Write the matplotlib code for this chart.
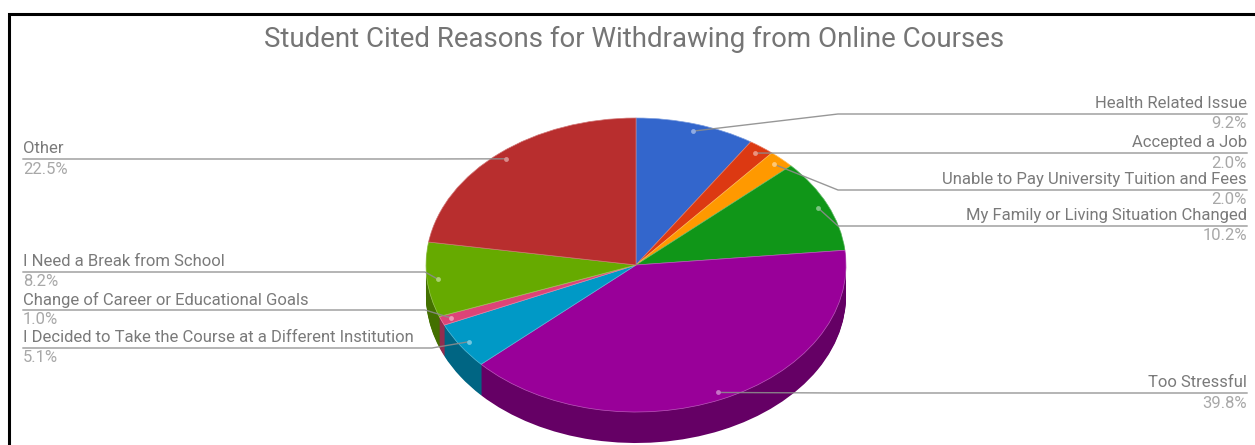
#!/usr/bin/python
""" Student withdrawal reasons drawn as a tilted pie with a side wall and leader labels """

import numpy as np
import matplotlib
matplotlib.use("Agg")
import matplotlib.pyplot as plt
import matplotlib.colors as mcolors

plt.rcParams['font.family'] = ['Roboto', 'DejaVu Sans']

title = "Student Cited Reasons for Withdrawing from Online Courses"

# clockwise from twelve o'clock
reasons = ["Health Related Issue", "Accepted a Job",
           "Unable to Pay University Tuition and Fees",
           "My Family or Living Situation Changed", "Too Stressful",
           "I Decided to Take the Course at a Different Institution",
           "Change of Career or Educational Goals",
           "I Need a Break from School", "Other"]
shares = [9.2, 2.0, 2.0, 10.2, 39.8, 5.1, 1.0, 8.2, 22.5]
slice_colors = ["#3366cc", "#dc3912", "#ff9900", "#109618", "#990099",
                "#0099c6", "#dd4477", "#66aa00", "#b82e2e"]

# label layout, in pixels: which side, y of the leader, x of the bend
label_side = ["right", "right", "right", "right", "right",
              "left", "left", "left", "left"]
leader_y = [114, 153, 190, 226, 393, 348, 310, 272, 159]
bend_x = [838, 838, 838, 838, 838, 432, 425, 425, 425]

W, H = 1255, 445
cx, cy = 636, 265      # pie centre
rx, ry = 210, 147      # ellipse radii of the top face
depth = 31             # height of the side wall
left_x, right_x = 23, 1247


def darker(c, f=0.66):
    r, g, b = mcolors.to_rgb(c)
    return (r*f, g*f, b*f)


def lighter(c, f=0.35):
    r, g, b = mcolors.to_rgb(c)
    return (r+(1-r)*f, g+(1-g)*f, b+(1-b)*f)


fig = plt.figure(figsize=(W/100, H/100), dpi=100, facecolor='white')

# pie axes: one data unit is rx wide and ry tall, which gives the tilt
ax = fig.add_axes([0, 0, 1, 1])
side_colors = [darker(c) for c in slice_colors]
for k in range(depth, 0, -1):
    ax.pie(shares, colors=side_colors, startangle=90, counterclock=False,
           center=(0, -k/ry), radius=1, wedgeprops={'linewidth': 0})
wedges, _ = ax.pie(shares, colors=slice_colors, startangle=90, counterclock=False,
                   center=(0, 0), radius=1, wedgeprops={'linewidth': 0.5})
for w, c in zip(wedges, slice_colors):
    w.set_edgecolor(lighter(c))
ax.set_aspect('auto')
ax.set_xlim(-cx/rx, (W-cx)/rx)
ax.set_ylim((cy-H)/ry, cy/ry)
ax.axis('off')

# overlay in pixel coordinates for the frame, title and labels
ov = fig.add_axes([0, 0, 1, 1])
ov.set_xlim(0, W)
ov.set_ylim(H, 0)
ov.axis('off')
ov.patch.set_alpha(0)

ov.plot([9, 9, W], [H, 14, 14], color='black', lw=2.2, solid_joinstyle='miter')
ov.text(634, 39, title, color='#757575', fontsize=19.9, ha='center', va='center')

mids = (np.cumsum(shares) - np.array(shares)/2) / 100 * 2*np.pi
for i in range(len(reasons)):
    dot_x = cx + 0.95*rx*np.sin(mids[i])
    dot_y = cy - 0.95*ry*np.cos(mids[i])
    y = leader_y[i]
    end_x = right_x if label_side[i] == "right" else left_x
    ov.plot([dot_x, bend_x[i], end_x], [dot_y, y, y], color='#8c8c8c', lw=1.0,
            alpha=0.9, solid_joinstyle='round')
    ov.plot([dot_x], [dot_y], 'o', ms=3.5, mfc=lighter(slice_colors[i], 0.45), mec='none')
    ha = 'right' if label_side[i] == "right" else 'left'
    ov.text(end_x, y-10.5, reasons[i], color='#7a7a7a', fontsize=12, ha=ha, va='center')
    ov.text(end_x, y+10, "%.1f%%" % shares[i], color='#a8a8a8', fontsize=12, ha=ha, va='center')

fig.savefig("out.png", dpi=100)
